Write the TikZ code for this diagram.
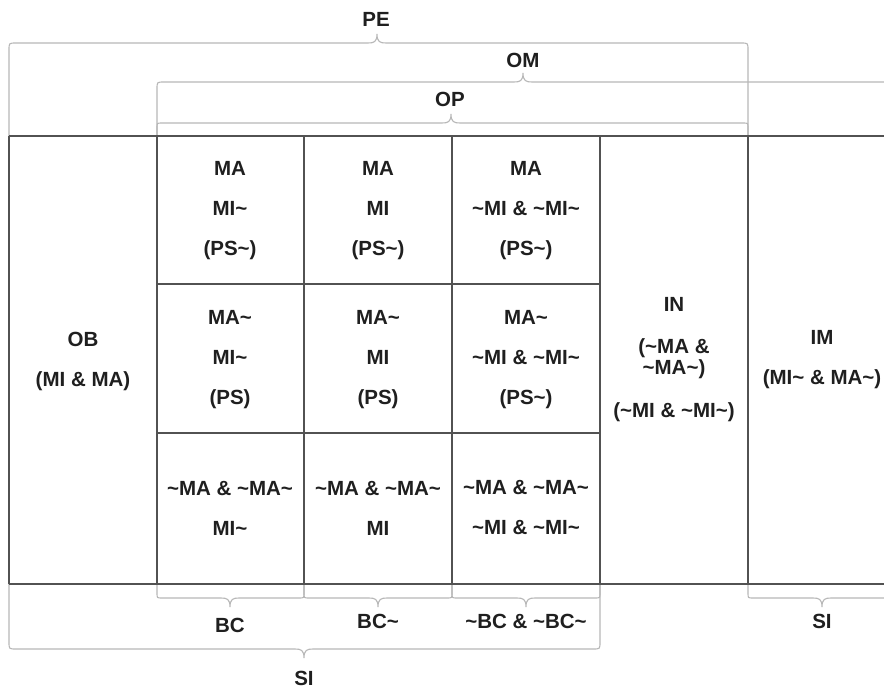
\documentclass[tikz,border=0pt]{standalone}
\usepackage{fontspec}
\setmainfont{Liberation Sans}
\newcommand{\Tl}{\textasciitilde}
\tikzset{
  gridline/.style={draw=black!68, line width=1.4pt},
  bracel/.style={draw=black!28, line width=1.1pt},
  lbl/.style={font=\fontsize{20.5}{40}\selectfont\bfseries, text=black!88, align=center, inner sep=0pt},
  lbltight/.style={font=\fontsize{20.5}{21}\selectfont\bfseries, text=black!88, align=center, inner sep=0pt},
}
% x1, x2, xtip, yline, yend, radius
\newcommand{\topbrace}[6]{%
  \draw[bracel] (#1,#5) -- (#1,#4+#6) .. controls (#1,#4) .. (#1+#6,#4)
    -- (#3-9,#4) .. controls (#3-3,#4) and (#3,#4-1) .. (#3,#4-9)
    .. controls (#3,#4-1) and (#3+3,#4) .. (#3+9,#4)
    -- (#2-#6,#4) .. controls (#2,#4) .. (#2,#4+#6) -- (#2,#5);}
\newcommand{\botbrace}[6]{%
  \draw[bracel] (#1,#5) -- (#1,#4-#6) .. controls (#1,#4) .. (#1+#6,#4)
    -- (#3-9,#4) .. controls (#3-3,#4) and (#3,#4+1) .. (#3,#4+9)
    .. controls (#3,#4+1) and (#3+3,#4) .. (#3+9,#4)
    -- (#2-#6,#4) .. controls (#2,#4) .. (#2,#4-#6) -- (#2,#5);}
\begin{document}
\begin{tikzpicture}[x=1pt,y=-1pt]
\useasboundingbox (0,0) rectangle (884,688);
\clip (0,0) rectangle (884,688);
\fill[white] (0,0) rectangle (884,688);

% braces above
\topbrace{9}{748}{377}{43}{136}{7}
\topbrace{157}{889}{523}{82}{136}{7}
\topbrace{157}{748}{451}{123}{136}{5}
% braces below
\botbrace{157}{304}{230}{598}{584}{5}
\botbrace{304}{452}{378}{598}{584}{5}
\botbrace{452}{600}{526}{598}{584}{5}
\botbrace{9}{600}{304}{649}{584}{7}
\botbrace{748}{896}{822}{598}{584}{5}

% grid
\draw[gridline] (9,136) -- (900,136);
\draw[gridline] (9,584) -- (900,584);
\draw[gridline] (157,284) -- (600,284);
\draw[gridline] (157,433) -- (600,433);
\foreach \xx in {9,157,304,452,600,748}
  \draw[gridline] (\xx,136) -- (\xx,584);

% top labels
\node[lbl] (pe) at (376,19) {PE};
\node[lbl] (om) at (523,60) {OM};
\node[lbl] (op) at (450,99) {OP};

% cells
\node[lbl] (ob)  at (83,361)  {OB\\(MI \& MA)};
\node[lbl] (c11) at (230,211) {MA\\MI\Tl\\(PS\Tl)};
\node[lbl] (c12) at (378,211) {MA\\MI\\(PS\Tl)};
\node[lbl] (c13) at (526,211) {MA\\\Tl MI \& \Tl MI\Tl\\(PS\Tl)};
\node[lbl] (c21) at (230,360) {MA\Tl\\MI\Tl\\(PS)};
\node[lbl] (c22) at (378,360) {MA\Tl\\MI\\(PS)};
\node[lbl] (c23) at (526,360) {MA\Tl\\\Tl MI \& \Tl MI\Tl\\(PS\Tl)};
\node[lbl] (c31) at (230,508) {\Tl MA \& \Tl MA\Tl\\MI\Tl};
\node[lbl] (c32) at (378,508) {\Tl MA \& \Tl MA\Tl\\MI};
\node[lbl] (c33) at (526,508) {\Tl MA \& \Tl MA\Tl\\\Tl MI \& \Tl MI\Tl};
\node[lbltight] (in) at (674,360) {IN\\[21pt](\Tl MA \&\\\Tl MA\Tl)\\[22pt](\Tl MI \& \Tl MI\Tl)};
\node[lbl] (im) at (822,360) {IM\\(MI\Tl{} \& MA\Tl)};

% bottom labels
\node[lbl] (bc)   at (230,625) {BC};
\node[lbl] (bcn)  at (378,621) {BC\Tl};
\node[lbl] (nbc)  at (526,621) {\Tl BC \& \Tl BC\Tl};
\node[lbl] (si)   at (304,678) {SI};
\node[lbl] (si2)  at (822,621) {SI};
\end{tikzpicture}
\end{document}
